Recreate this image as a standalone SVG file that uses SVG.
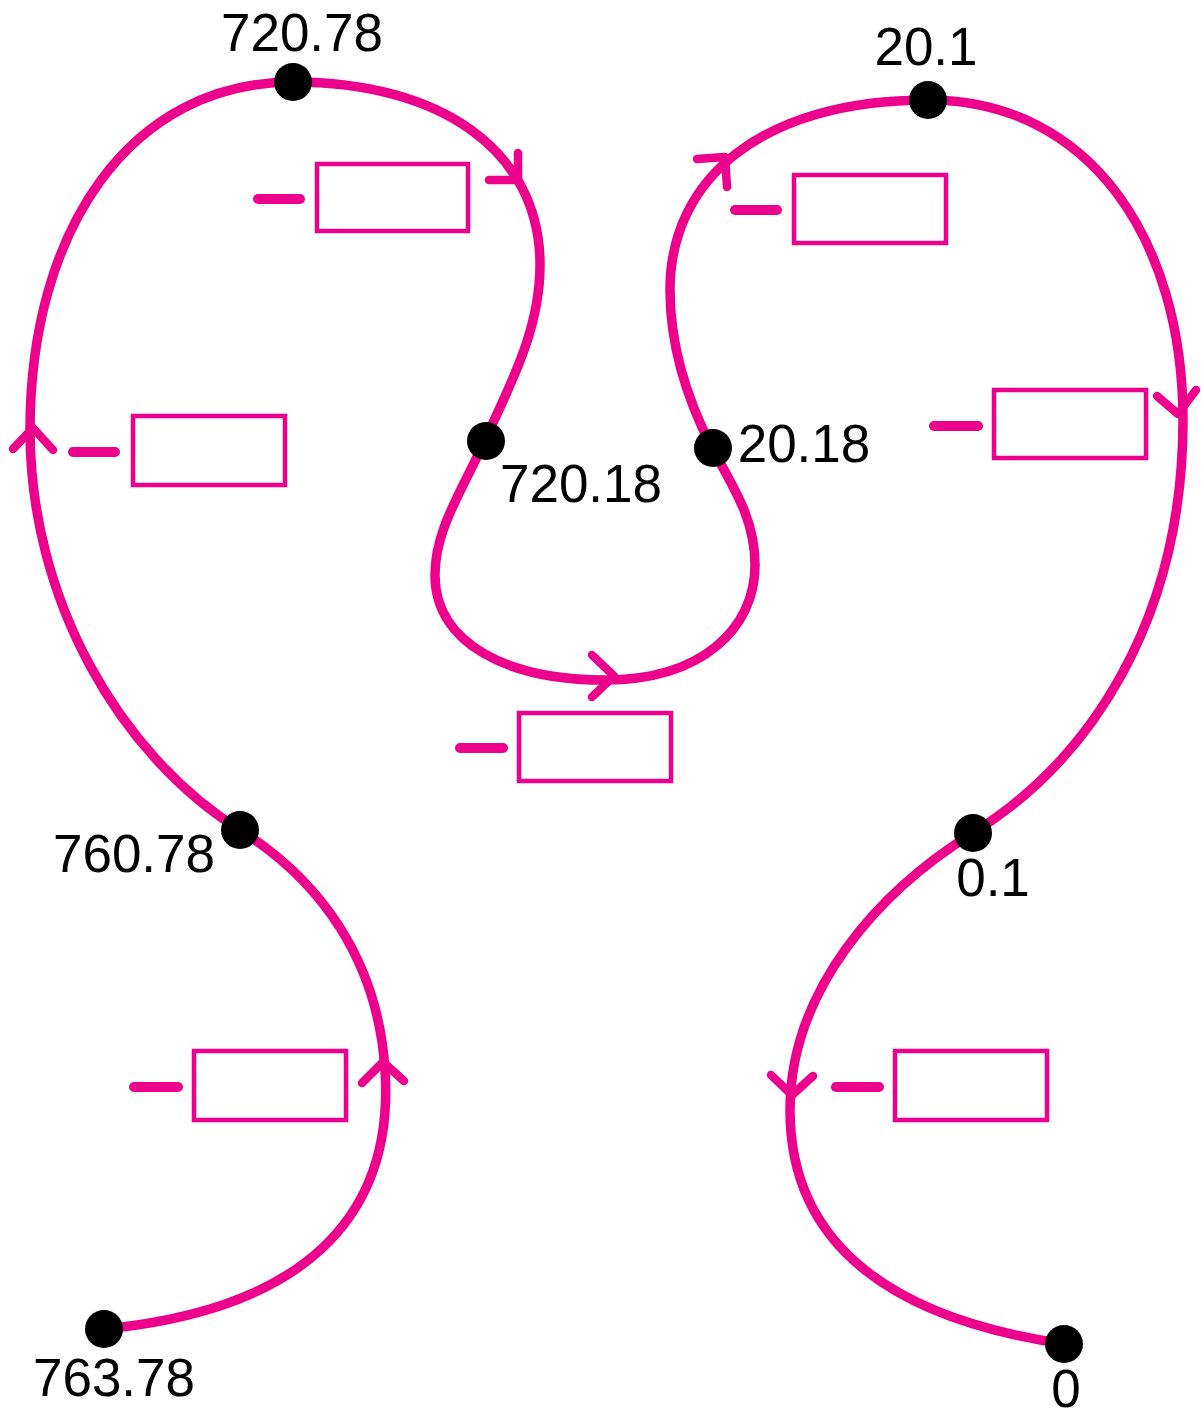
<svg xmlns="http://www.w3.org/2000/svg" width="1201" height="1416" viewBox="0 0 1201 1416">
  <style>
    .track { fill: none; stroke: #EC008C; stroke-width: 9.5; stroke-linecap: round; stroke-linejoin: round; }
    .chev { fill: none; stroke: #EC008C; stroke-width: 8.5; stroke-linecap: round; stroke-linejoin: round; }
    .box { fill: #FFFFFF; stroke: #EC008C; stroke-width: 4.5; }
    .minus { stroke: #EC008C; stroke-width: 10; stroke-linecap: round; }
    .dot { fill: #000000; }
    .lbl { font-family: "Liberation Sans", Arial, sans-serif; font-size: 53px; fill: #000000; text-anchor: middle; }
  </style>
  <rect width="1201" height="1416" fill="#FFFFFF"/>

  <!-- connectors: one continuous track with open chevron arrowheads -->
  <g id="connectors">
    <path class="track" d="M104,1329 C300,1310 395,1220 385,1070 C378,960 320,880 240,830
      C120,755 30,600 30,430 C30,230 130,82 293,82
      C440,82 540,150 540,265 C540,330 510,385 485,440
      C460,495 435,530 435,575 C435,645 510,680 605,680
      C700,680 755,630 755,565 C755,520 735,490 712,448
      C690,405 670,350 670,290 C670,180 760,100 928,100
      C1090,100 1183,240 1183,420 C1183,620 1090,760 973,833
      C879,891 790,990 790,1110 C790,1250 900,1320 1065,1344"/>
    <path class="chev" d="M362,1083 L383,1062 L404,1081"/>
    <path class="chev" d="M13,449 L33,428 L53,450"/>
    <path class="chev" d="M518,153 L518,180 L489,180"/>
    <path class="chev" d="M592,655 L614,676 L592,697"/>
    <path class="chev" d="M697,159 L725,157 L727,187"/>
    <path class="chev" d="M1157,396 L1178,414 L1196,390"/>
    <path class="chev" d="M771,1075 L792,1095 L813,1076"/>
  </g>

  <!-- blanks: minus sign followed by an empty answer box -->
  <g id="blank-1"><line class="minus" x1="258" y1="199" x2="300" y2="199"/><rect class="box" x="317" y="164" width="151" height="67"/></g>
  <g id="blank-2"><line class="minus" x1="735" y1="210" x2="777" y2="210"/><rect class="box" x="794" y="175" width="152" height="68"/></g>
  <g id="blank-3"><line class="minus" x1="73" y1="452" x2="115" y2="452"/><rect class="box" x="133" y="416" width="152" height="69"/></g>
  <g id="blank-4"><line class="minus" x1="460" y1="748" x2="503" y2="748"/><rect class="box" x="519" y="713" width="152" height="68"/></g>
  <g id="blank-5"><line class="minus" x1="934" y1="426" x2="978" y2="426"/><rect class="box" x="994" y="390" width="152" height="68"/></g>
  <g id="blank-6"><line class="minus" x1="134" y1="1087" x2="178" y2="1087"/><rect class="box" x="194" y="1051" width="152" height="69"/></g>
  <g id="blank-7"><line class="minus" x1="836" y1="1087" x2="879" y2="1087"/><rect class="box" x="895" y="1051" width="152" height="69"/></g>

  <!-- labelled points -->
  <g id="p-763-78"><circle class="dot" cx="104" cy="1329" r="19"/><text class="lbl" x="114" y="1396">763.78</text></g>
  <g id="p-760-78"><circle class="dot" cx="240" cy="830" r="19"/><text class="lbl" x="134" y="872">760.78</text></g>
  <g id="p-720-78"><circle class="dot" cx="293" cy="82" r="19"/><text class="lbl" x="302" y="51">720.78</text></g>
  <g id="p-720-18"><circle class="dot" cx="486" cy="441" r="19"/><text class="lbl" x="581" y="502">720.18</text></g>
  <g id="p-20-18"><circle class="dot" cx="713" cy="448" r="19"/><text class="lbl" x="804" y="462">20.18</text></g>
  <g id="p-20-1"><circle class="dot" cx="928" cy="100" r="19"/><text class="lbl" x="926" y="65">20.1</text></g>
  <g id="p-0-1"><circle class="dot" cx="973" cy="833" r="19"/><text class="lbl" x="993" y="896">0.1</text></g>
  <g id="p-0"><circle class="dot" cx="1064" cy="1344" r="19"/><text class="lbl" x="1066" y="1407">0</text></g>
</svg>
